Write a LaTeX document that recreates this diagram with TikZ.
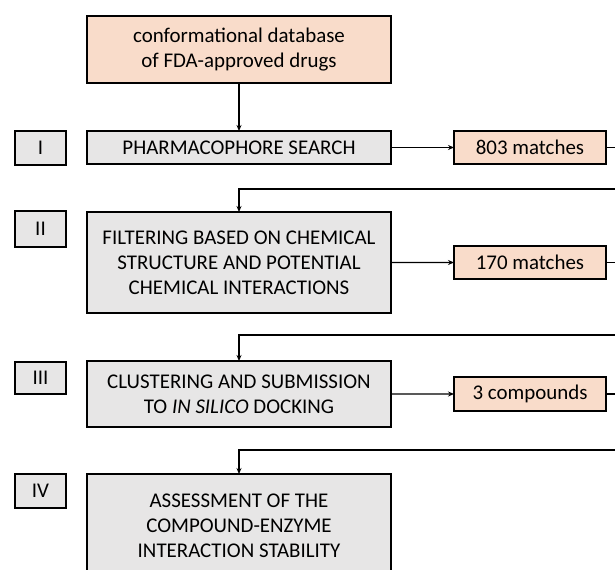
\documentclass[tikz,border=0pt]{standalone}
\usepackage{fontspec}
\setmainfont{Carlito}
\usetikzlibrary{arrows.meta}
\definecolor{stagegray}{HTML}{E7E6E6}
\definecolor{peach}{HTML}{F9DCCA}
\tikzset{
  box/.style={draw=black, line width=1.4bp, inner sep=0pt, outer sep=0pt,
    anchor=north west, align=center, font=\fontsize{21}{25}\selectfont},
  stagebox/.style={box, fill=stagegray, minimum width=304bp},
  romanbox/.style={box, fill=stagegray, minimum width=51bp},
  resultbox/.style={box, fill=peach, minimum width=152bp},
  link/.style={line width=1.4bp, -{Stealth[length=6bp,width=5bp]}}
}

\begin{document}
\begin{tikzpicture}[x=1bp, y=-1bp]
    \clip (0,0) rectangle (615,570);
    \fill[white] (0,0) rectangle (615,570);
    % source
    \node[box, fill=peach, minimum width=304bp, minimum height=67bp] (db) at (87,16)
      {conformational database\\of FDA-approved drugs};
    % stages
    \node[stagebox, minimum height=33bp] (search) at (87,131) {PHARMACOPHORE SEARCH};
    \node[stagebox, minimum height=101bp] (filter) at (87,212)
      {FILTERING BASED ON CHEMICAL\\STRUCTURE AND POTENTIAL\\CHEMICAL INTERACTIONS};
    \node[stagebox, minimum height=66bp] (cluster) at (87,361)
      {CLUSTERING AND SUBMISSION\\TO \textit{IN SILICO} DOCKING};
    \node[stagebox, minimum height=104bp] (assess) at (87,474)
      {ASSESSMENT OF THE\\COMPOUND-ENZYME\\INTERACTION STABILITY};
    % stage numbers
    \node[romanbox, minimum height=34bp] (n1) at (15,131) {I};
    \node[romanbox, minimum height=36bp] (n2) at (15,211) {II};
    \node[romanbox, minimum height=32bp] (n3) at (15,362) {III};
    \node[romanbox, minimum height=34bp] (n4) at (15,474) {IV};
    % results
    \node[resultbox, minimum height=33bp] (res1) at (454,131) {803 matches};
    \node[resultbox, minimum height=33bp] (res2) at (454,246) {170 matches};
    \node[resultbox, minimum height=34bp] (res3) at (454,377) {3 compounds};
    % turn points past the right edge
    \coordinate (back1) at (640,189);
    \coordinate (back2) at (640,335);
    \coordinate (back3) at (640,450);
    % connectors
    \draw[link] (db) -- (search);
    \draw[link] (search) -- (res1);
    \draw[link] (filter) -- (res2);
    \draw[link] (cluster) -- (res3);
    \draw[link] (res1.east) -| (back1) -| (filter.north);
    \draw[link] (res2.east) -| (back2) -| (cluster.north);
    \draw[link] (res3.east) -| (back3) -| (assess.north);
\end{tikzpicture}
\end{document}
